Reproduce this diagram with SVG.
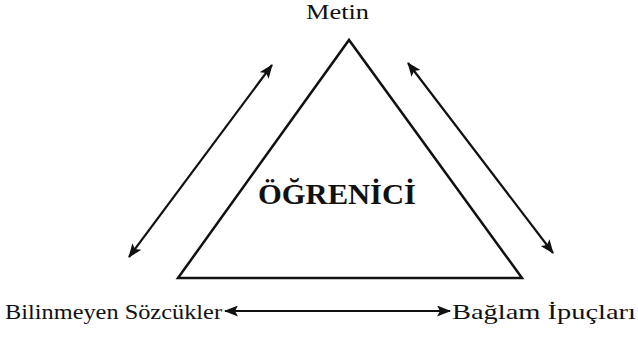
<svg xmlns="http://www.w3.org/2000/svg" width="638" height="349" viewBox="0 0 638 349">
<style>
.t{font-family:"Liberation Serif","Times New Roman",serif;fill:#111}
.ln{stroke:#111;stroke-width:2.5;fill:none}
.ar{stroke:#111;stroke-width:2.2;fill:none;marker-start:url(#ah);marker-end:url(#ah)}
</style>
<defs>
<marker id="ah" viewBox="0 0 14 11" refX="13" refY="5.5" markerWidth="14" markerHeight="11" markerUnits="userSpaceOnUse" orient="auto-start-reverse">
<path d="M0,0 L14,5.5 L0,11 L3,5.5 Z" fill="#111"/>
</marker>
</defs>
<rect width="638" height="349" fill="#fff"/>
<g id="triangle">
<path class="ln" d="M178,278 L349,40 L522,278 Z" stroke-linejoin="miter"/>
<text class="t" x="337" y="204" font-size="30" font-weight="bold" text-anchor="middle" textLength="158" lengthAdjust="spacingAndGlyphs">ÖĞRENİCİ</text>
</g>
<g id="metin">
<text class="t" x="306" y="19" font-size="20" textLength="63" lengthAdjust="spacingAndGlyphs">Metin</text>
</g>
<g id="bilinmeyen">
<text class="t" x="5" y="319" font-size="22" textLength="217" lengthAdjust="spacingAndGlyphs">Bilinmeyen Sözcükler</text>
</g>
<g id="baglam">
<text class="t" x="452" y="319" font-size="22" textLength="184" lengthAdjust="spacingAndGlyphs">Bağlam İpuçları</text>
</g>
<g id="connectors">
<line class="ar" x1="129" y1="257" x2="272" y2="65"/>
<line class="ar" x1="408" y1="63" x2="553" y2="253"/>
<line class="ar" x1="225" y1="311" x2="450" y2="311"/>
</g>
</svg>
